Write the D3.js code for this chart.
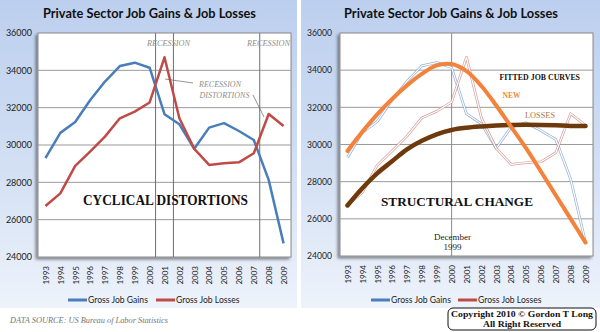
<!DOCTYPE html>
<html><head><meta charset="utf-8">
<script src="https://cdn.jsdelivr.net/npm/d3@7"></script>
<style>body{margin:0;background:#fff}svg{display:block}</style>
</head><body>
<svg id="c" width="600" height="332"></svg>
<script>
const years = d3.range(1993, 2010);
const gains  = [29300,30650,31230,32400,33400,34230,34410,34140,31650,31110,29800,30930,31170,30750,30270,28130,24730];
const losses = [26730,27410,28880,29650,30450,31430,31790,32280,34700,31430,29790,28930,29020,29070,29560,31660,31020];
const fittedNew    = [29650,30680,31620,32450,33180,33800,34260,34330,33950,33150,32100,30950,29800,28550,27270,26000,24720];
const fittedLosses = [26720,27650,28450,29100,29740,30200,30550,30780,30900,30970,31020,31050,31060,31050,31030,31000,31000];
const yTicks = [24000,26000,28000,30000,32000,34000,36000];
const recessionMarks = [2000.4, 2001.6, 2007.4];
const title = "Private Sector Job Gains & Job Losses";
const legendNames = ["Gross Job Gains", "Gross Job Losses"];

const svg = d3.select("#c");
const defs = svg.append("defs");
const grad = defs.append("linearGradient").attr("id","bg").attr("x1",0).attr("y1",0).attr("x2",0).attr("y2",1);
grad.append("stop").attr("offset","0%").attr("stop-color","#bccfee");
grad.append("stop").attr("offset","55%").attr("stop-color","#d3e0f4");
grad.append("stop").attr("offset","100%").attr("stop-color","#eef3fb");
const sh = defs.append("filter").attr("id","sh").attr("x","-10%").attr("y","-10%").attr("width","120%").attr("height","120%");
sh.append("feDropShadow").attr("dx",-2).attr("dy",2).attr("stdDeviation",1.5).attr("flood-color","#000").attr("flood-opacity",0.45);

const BLUE = "#4a7ebb", RED = "#be4b48";
const SANS = "Lato, 'Open Sans', sans-serif";
const SERIF = "'Liberation Serif', 'DejaVu Serif', serif";

function panel(o) {
  const g = svg.append("g");
  g.append("rect").attr("x",o.px0).attr("y",0).attr("width",o.px1-o.px0).attr("height",308).attr("fill","url(#bg)");
  g.append("text").attr("x",o.tx0).attr("y",18).attr("textLength",o.tw).attr("lengthAdjust","spacingAndGlyphs")
    .attr("font-family",SANS).attr("font-weight","bold").attr("font-size",12.5).attr("fill","#111").text(title);
  g.append("rect").attr("x",o.x0).attr("y",o.y0).attr("width",o.x1-o.x0).attr("height",o.y1-o.y0)
    .attr("fill","#fff").attr("stroke","#8a8a8a").attr("stroke-width",1).attr("filter","url(#sh)");
  const x = d3.scalePoint(years,[o.x0,o.x1]).padding(0.5);
  const xl = d3.scaleLinear([1993,2009],[x(1993),x(2009)]);
  const y = d3.scaleLinear([24000,36000],[o.y1,o.y0]);
  g.selectAll(".grid").data(yTicks.slice(1,-1)).join("line")
    .attr("x1",o.x0).attr("x2",o.x1).attr("y1",d=>y(d)).attr("y2",d=>y(d)).attr("stroke","#9a9a9a").attr("stroke-width",1);
  const ya = g.append("g").attr("transform",`translate(${o.x0},0)`)
    .call(d3.axisLeft(y).tickValues(yTicks).tickSize(0).tickPadding(o.yPad).tickFormat(d3.format("d")));
  ya.select(".domain").remove();
  ya.selectAll("text").attr("font-family",SANS).attr("font-size",o.yFont).attr("fill","#222");
  const xa = g.append("g").attr("transform",`translate(0,${o.y1})`).call(d3.axisBottom(x).tickSize(0));
  xa.select(".domain").remove();
  xa.selectAll("text").attr("transform","rotate(-90)").attr("x",-9).attr("y",0).attr("dy","0.35em")
    .attr("text-anchor","end").attr("font-family",SANS).attr("font-size",8).attr("fill","#222");
  const lg = g.append("g");
  [[o.l1,BLUE,legendNames[0]],[o.l2,RED,legendNames[1]]].forEach(([lx,c,t])=>{
    lg.append("line").attr("x1",lx).attr("x2",lx+19).attr("y1",300).attr("y2",300).attr("stroke",c).attr("stroke-width",3);
    lg.append("text").attr("x",lx+20).attr("y",303).attr("font-family",SANS).attr("font-size",8.6).attr("fill","#222").text(t);
  });
  return {g,x,xl,y};
}

// LEFT
const L = panel({px0:0,px1:297,tx0:43,tw:213,x0:38,x1:291,y0:33,y1:257,yPad:6,yFont:9,l1:68,l2:156});
L.g.selectAll(".rec").data(recessionMarks).join("line")
  .attr("x1",d=>L.xl(d)).attr("x2",d=>L.xl(d)).attr("y1",33).attr("y2",257).attr("stroke","#707070").attr("stroke-width",1);
const lineL = d3.line().x((d,i)=>L.x(years[i])).y(d=>L.y(d));
L.g.append("path").attr("d",lineL(gains)).attr("fill","none").attr("stroke",BLUE).attr("stroke-width",2.5).attr("stroke-linejoin","round");
L.g.append("path").attr("d",lineL(losses)).attr("fill","none").attr("stroke",RED).attr("stroke-width",2.5).attr("stroke-linejoin","round");
const annot = (g,x,y,t,w)=>g.append("text").attr("x",x).attr("y",y).attr("textLength",w).attr("lengthAdjust","spacingAndGlyphs")
  .attr("font-family",SERIF).attr("font-style","italic").attr("font-size",8.5).attr("fill","#8f8f8f").text(t);
annot(L.g,147,45.5,"RECESSION",43);
annot(L.g,247,45.5,"RECESSION",43);
annot(L.g,199,87,"RECESSION",42);
annot(L.g,199.5,97.5,"DISTORTIONS",50);
L.g.append("path").attr("d","M165,79L193,83M253,95L264,117").attr("stroke","#666").attr("stroke-width",0.7).attr("fill","none");
L.g.append("text").attr("x",83).attr("y",204.5).attr("textLength",165).attr("lengthAdjust","spacingAndGlyphs")
  .attr("font-family",SERIF).attr("font-weight","bold").attr("font-size",14).attr("fill","#111").text("CYCLICAL DISTORTIONS");
svg.append("text").attr("x",10).attr("y",323).attr("textLength",158).attr("lengthAdjust","spacingAndGlyphs")
  .attr("font-family",SERIF).attr("font-style","italic").attr("font-size",8.5).attr("fill","#777")
  .text("DATA SOURCE: US Bureau of Labor Statistics");

// RIGHT
const R = panel({px0:301,px1:600,tx0:344,tw:214,x0:340,x1:593,y0:33,y1:256,yPad:8,yFont:8.6,l1:371,l2:458});
R.g.append("line").attr("x1",R.x(2000)).attr("x2",R.x(2000)).attr("y1",33).attr("y2",256).attr("stroke","#8a8a8a").attr("stroke-width",1);
const lineR = d3.line().x((d,i)=>R.x(years[i])).y(d=>R.y(d));
[[gains,"#7197cc"],[losses,"#c8807e"]].forEach(([s,c])=>{
  R.g.append("path").attr("d",lineR(s)).attr("fill","none").attr("stroke",c).attr("stroke-width",2.6).attr("stroke-linejoin","round").attr("opacity",0.75);
  R.g.append("path").attr("d",lineR(s)).attr("fill","none").attr("stroke","#fff").attr("stroke-width",1.2).attr("stroke-linejoin","round");
});
const smooth = d3.line().x((d,i)=>R.x(years[i])).y(d=>R.y(d)).curve(d3.curveCatmullRom.alpha(0.5));
R.g.append("path").attr("d",smooth(fittedLosses)).attr("fill","none").attr("stroke","#6e3a0c").attr("stroke-width",4.5).attr("stroke-linecap","round");
R.g.append("path").attr("d",smooth(fittedNew)).attr("fill","none").attr("stroke","#f3833c").attr("stroke-width",4).attr("stroke-linecap","round");
const lab = (x,y,t,w,c,fs,bold)=>R.g.append("text").attr("x",x).attr("y",y).attr("textLength",w).attr("lengthAdjust","spacingAndGlyphs")
  .attr("font-family",SERIF).attr("font-weight",bold?"bold":"normal").attr("font-size",fs).attr("fill",c).text(t);
lab(499.5,80,"FITTED JOB CURVES",80.5,"#111",8.6,true);
lab(502.5,97.5,"NEW",18,"#f08a40",8.6,true);
lab(525,118,"LOSSES",30,"#b0764a",8.8,false);
lab(381,205.5,"STRUCTURAL CHANGE",152,"#111",13.5,true);
R.g.append("text").attr("x",452.5).attr("y",239.5).attr("text-anchor","middle").attr("font-family",SERIF).attr("font-size",9).attr("fill","#222").text("December");
R.g.append("text").attr("x",452.5).attr("y",249.5).attr("text-anchor","middle").attr("font-family",SERIF).attr("font-size",9).attr("fill","#222").text("1999");

svg.append("rect").attr("x",448).attr("y",308).attr("width",148).attr("height",22).attr("rx",5).attr("fill","#fff").attr("stroke","#111").attr("stroke-width",1);
svg.append("text").attr("x",451).attr("y",317).attr("textLength",142).attr("lengthAdjust","spacingAndGlyphs")
  .attr("font-family",SERIF).attr("font-weight","bold").attr("font-size",8.8).attr("fill","#111").text("Copyright 2010 © Gordon T Long");
svg.append("text").attr("x",483).attr("y",326.5).attr("textLength",78).attr("lengthAdjust","spacingAndGlyphs")
  .attr("font-family",SERIF).attr("font-weight","bold").attr("font-size",8.8).attr("fill","#111").text("All Right Reserved");
</script>
</body></html>
